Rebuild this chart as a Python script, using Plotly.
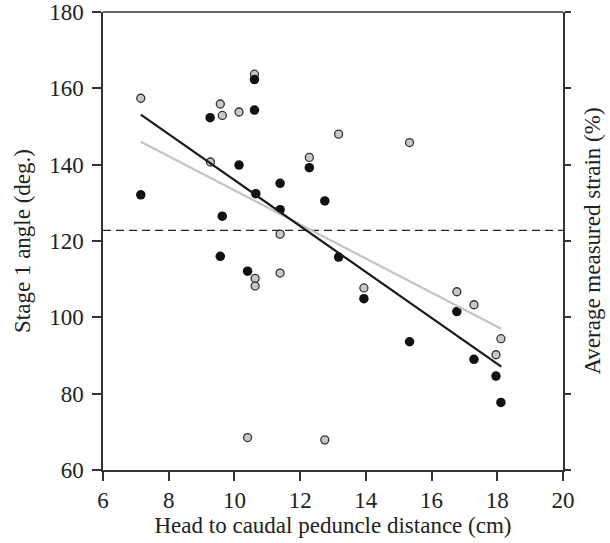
import plotly.graph_objects as go

# Gray series (open gray markers)
gray_x = [7.15, 9.57, 9.63, 10.14, 10.61, 9.27, 12.28, 11.39, 13.17, 10.63,
          10.63, 11.39, 10.40, 12.75, 13.94, 16.77, 17.29, 18.11, 17.96, 15.33]
gray_y = [157.4, 155.9, 152.9, 153.8, 163.7, 140.7, 141.9, 121.8, 148.0, 110.2,
          108.2, 111.6, 68.5, 67.9, 107.7, 106.7, 103.3, 94.4, 90.2, 145.8]

# Black series (filled black markers)
black_x = [7.15, 9.26, 10.61, 10.61, 10.14, 12.28, 11.39, 10.65, 9.63, 12.75,
           11.39, 9.57, 10.40, 13.17, 13.94, 15.33, 16.77, 17.29, 17.96, 18.11]
black_y = [132.1, 152.3, 162.3, 154.3, 139.9, 139.2, 135.1, 132.4, 126.5, 130.5,
           128.2, 116.0, 112.1, 115.8, 104.9, 93.6, 101.5, 89.0, 84.6, 77.7]

# Regression line endpoints
fit_x = [7.15, 18.12]
fit_black = [153.1, 87.1]
fit_gray = [146.0, 97.0]

# Dashed reference level
ref_x = [6, 20]
ref_y = [122.8, 122.8]

x_ticks = [6, 8, 10, 12, 14, 16, 18, 20]
y_ticks = [60, 80, 100, 120, 140, 160, 180]

font = "Liberation Serif, Times New Roman, serif"
FS = 23

fig = go.Figure()
fig.add_trace(go.Scatter(x=ref_x, y=ref_y, mode="lines",
                         line=dict(color="#222222", width=1.2, dash="8px,5px"),
                         showlegend=False, hoverinfo="skip"))
fig.add_trace(go.Scatter(x=gray_x, y=gray_y, mode="markers",
                         marker=dict(size=8, color="#c8c8c8",
                                     line=dict(color="#333333", width=1.3)),
                         showlegend=False))
fig.add_trace(go.Scatter(x=black_x, y=black_y, mode="markers",
                         marker=dict(size=9.5, color="#111111",
                                     line=dict(color="#111111", width=0)),
                         showlegend=False))
fig.add_trace(go.Scatter(x=fit_x, y=fit_gray, mode="lines",
                         line=dict(color="#c4c4c4", width=2.2),
                         showlegend=False))
fig.add_trace(go.Scatter(x=fit_x, y=fit_black, mode="lines",
                         line=dict(color="#1a1a1a", width=2.2),
                         showlegend=False))
# invisible trace for right axis
fig.add_trace(go.Scatter(x=[None], y=[None], yaxis="y2", showlegend=False,
                         hoverinfo="skip"))

axis_common = dict(showline=True, linecolor="#333333", linewidth=1.5,
                   ticks="outside", tickcolor="#333333", tickwidth=1.5,
                   showgrid=False, zeroline=False, automargin=False,
                   tickfont=dict(family=font, size=FS, color="#222222"))

fig.update_layout(
    width=610, height=543,
    margin=dict(l=103, r=47, t=12, b=73),
    paper_bgcolor="white", plot_bgcolor="white",
    font=dict(family=font, color="#222222"),
    xaxis=dict(range=[6, 20], tickvals=x_ticks, ticklen=9,
               title=dict(text="Head to caudal peduncle distance (cm)",
                          font=dict(family=font, size=FS), standoff=4),
               **axis_common),
    yaxis=dict(range=[60, 180], tickvals=y_ticks, ticklen=9,
               ticklabelstandoff=4,
               title=dict(text="Stage 1 angle (deg.)",
                          font=dict(family=font, size=FS), standoff=12),
               **axis_common),
    yaxis2=dict(range=[60, 180], tickvals=y_ticks, ticklen=6,
                overlaying="y", side="right", showticklabels=False,
                title=dict(text="Average measured strain (%)",
                           font=dict(family=font, size=FS), standoff=14),
                **axis_common),
    shapes=[dict(type="line", xref="paper", yref="paper", x0=0, x1=1, y0=1, y1=1,
                 line=dict(color="#333333", width=1.5))],
)

fig.write_html("out.html", config={"displayModeBar": False},
               post_script="document.body.style.margin='0';document.body.style.overflow='hidden';")
